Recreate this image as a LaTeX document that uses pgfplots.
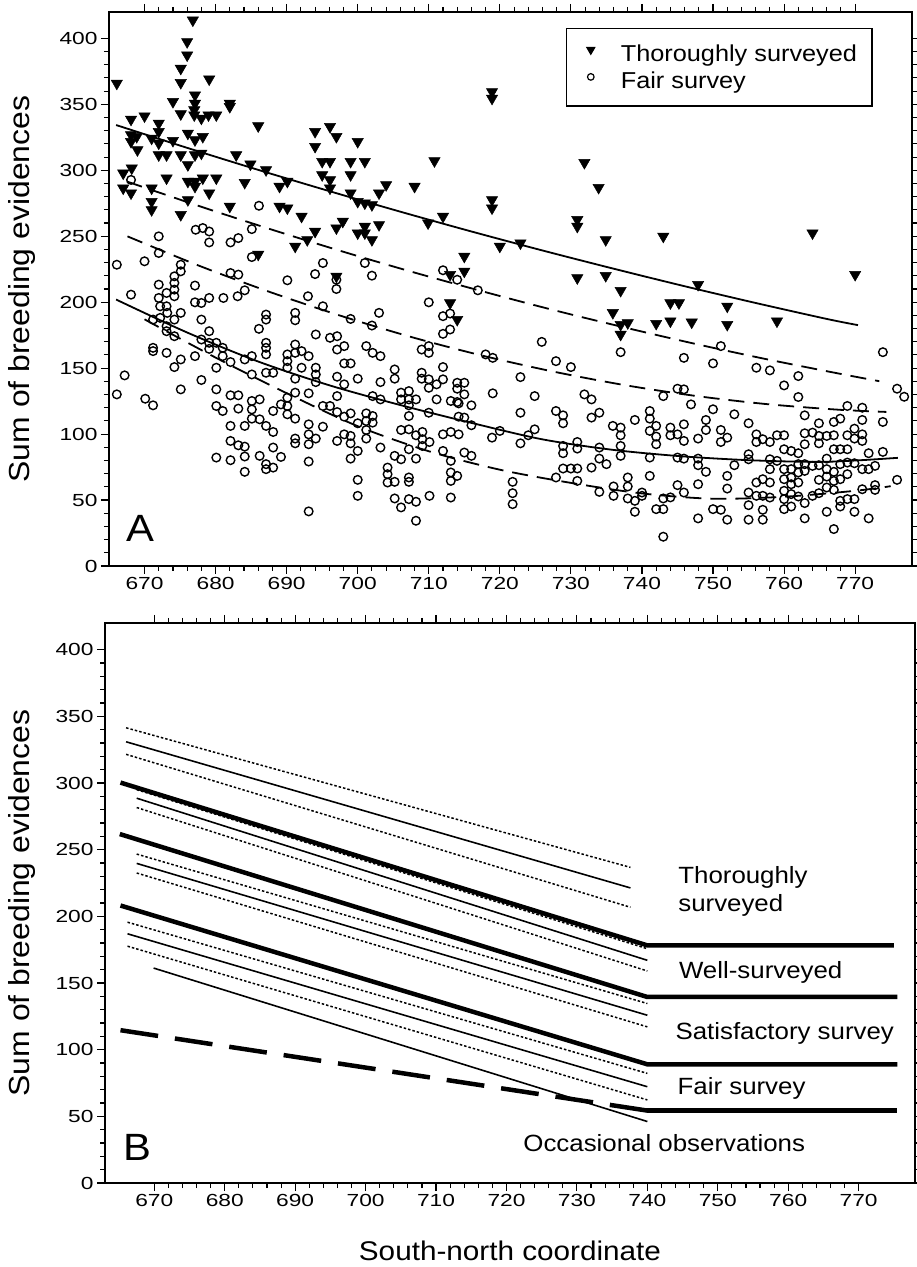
\documentclass[border=0pt]{standalone}
\usepackage{fontspec}
\setmainfont{Liberation Sans}[FakeStretch=1.1]
\newfontfamily\tickfont{Liberation Sans}[FakeStretch=1.3]
\usepackage{pgfplots}
\usepackage{pgfplotstable}
\pgfplotsset{compat=1.18}

\pgfplotstableread{
x y
666.1 365.9
676.8 413.8
676.0 397.4
676.0 387.3
675.1 377.2
675.1 366.4
679.1 369.1
674.0 352.0
677.1 357.0
677.1 350.7
677.0 345.7
677.0 341.9
678.0 339.4
679.0 341.9
680.1 341.9
675.1 342.7
682.0 350.7
682.0 348.2
686.0 333.6
668.1 338.6
670.0 341.1
668.1 326.8
668.1 321.7
668.9 325.5
669.0 315.4
671.0 324.2
672.0 335.6
672.0 329.3
672.0 320.5
672.0 311.6
673.1 311.6
674.0 322.5
675.1 311.6
676.1 328.0
677.1 323.0
678.2 325.5
676.1 304.1
677.1 311.6
678.0 312.9
667.0 297.8
668.2 301.6
667.0 286.4
668.1 282.7
671.0 286.4
671.0 276.3
671.0 270.0
673.1 294.0
676.1 291.5
677.1 291.5
677.1 287.7
678.2 294.0
680.1 294.0
679.1 282.7
676.1 277.6
675.1 266.3
682.0 272.6
684.1 290.7
682.9 311.6
684.9 304.6
687.1 300.3
689.0 287.7
690.1 291.5
689.0 272.6
690.1 271.3
692.1 265.0
691.2 242.3
692.9 247.3
694.0 329.3
694.0 318.0
696.1 333.1
697.0 325.5
695.0 306.6
696.1 306.6
695.0 296.5
696.1 292.7
696.1 286.4
699.0 306.6
699.0 296.5
701.0 306.6
700.0 321.7
699.0 282.7
700.0 276.3
701.0 275.1
702.0 273.8
703.0 282.7
704.0 289.0
708.0 287.7
710.8 307.1
709.9 260.0
712.0 265.0
694.0 253.6
697.0 256.2
697.9 261.2
700.0 252.4
701.0 257.4
701.0 252.4
702.0 247.3
703.0 258.7
697.0 219.6
686.0 236.2
718.9 359.5
718.9 354.5
731.9 305.8
733.9 286.9
718.9 277.6
718.9 271.3
730.9 262.5
730.9 257.4
734.9 247.3
743.0 249.9
764.0 252.4
770.0 220.9
720.0 242.3
722.9 244.8
715.0 234.7
715.0 223.4
713.0 220.9
730.9 218.4
734.9 220.1
737.0 208.8
747.9 213.3
744.0 199.4
745.2 199.4
752.0 196.9
713.0 199.4
735.9 192.0
714.0 186.8
737.0 183.0
737.0 175.5
738.0 184.3
742.0 183.8
744.0 185.6
747.0 184.8
752.0 183.0
759.0 185.6
}\tri

\pgfplotstableread{
x y
666.1 228.4
668.1 292.7
668.1 205.7
670.0 231.0
672.0 249.9
672.0 237.3
672.0 213.3
672.0 203.2
673.1 207.0
674.2 219.6
674.2 214.6
674.2 209.5
674.2 204.5
675.1 228.4
675.1 223.4
677.2 254.9
678.2 256.2
679.1 253.6
679.1 245.3
677.1 212.6
677.1 199.9
678.0 199.4
679.1 203.2
681.1 203.2
682.1 245.3
683.2 248.6
682.1 222.1
683.2 220.9
684.1 209.0
685.1 255.4
685.1 234.2
683.1 204.5
686.1 273.1
690.1 216.6
693.0 204.5
694.0 221.3
695.1 229.7
695.1 196.9
697.0 217.0
697.0 210.0
701.0 229.7
702.0 220.1
710.0 199.9
712.0 224.2
714.0 217.0
716.9 209.0
672.2 196.9
673.1 196.9
673.2 191.9
672.2 188.1
671.2 186.8
674.2 186.8
675.1 191.9
678.0 186.8
673.1 181.8
673.1 178.0
674.2 174.2
679.1 178.0
678.0 171.7
679.1 169.2
680.1 169.2
681.0 165.4
679.1 164.6
671.2 165.4
671.2 162.9
673.1 161.6
675.1 156.6
674.2 150.8
677.1 159.1
681.0 159.1
682.1 154.6
680.1 150.3
684.1 156.6
685.1 159.1
685.1 145.2
686.1 179.8
687.1 190.6
687.1 186.8
687.1 169.2
687.1 165.4
687.1 160.4
687.1 146.5
688.1 146.5
690.1 160.4
690.1 155.3
690.1 150.3
691.2 191.9
691.2 186.3
691.2 167.9
691.2 161.6
691.2 142.0
692.1 162.9
692.1 150.3
693.1 159.1
694.1 175.5
694.1 150.3
694.1 145.2
694.1 139.4
696.1 173.0
697.1 174.2
697.1 164.1
698.1 166.7
699.0 187.3
702.0 182.3
703.0 191.9
701.2 166.7
702.1 161.6
703.2 159.1
698.1 153.6
699.0 153.6
697.1 143.5
698.1 137.7
700.0 142.0
703.2 139.4
702.1 128.8
703.2 126.3
705.2 149.0
705.2 142.0
709.0 164.1
710.0 166.7
710.0 161.6
709.0 146.5
709.0 142.0
710.0 141.5
710.0 135.1
711.1 137.7
712.0 189.4
712.0 176.0
712.0 150.8
712.0 141.5
711.1 126.3
710.0 116.2
666.1 130.1
667.2 144.5
670.1 126.8
671.2 121.8
675.1 133.9
678.0 141.0
680.1 133.9
680.1 121.3
681.0 117.5
682.1 129.4
683.2 129.4
683.2 119.3
682.1 106.2
684.1 106.2
685.1 125.1
685.1 118.7
685.1 111.7
686.2 126.3
686.2 111.2
687.1 106.2
688.1 101.6
688.1 117.5
689.2 122.5
690.1 127.6
690.1 121.3
690.1 115.0
691.2 131.4
691.2 111.7
693.1 130.9
693.1 107.4
693.1 99.8
693.1 92.3
694.1 96.6
695.1 121.3
695.1 105.6
696.1 121.3
697.1 128.8
697.1 116.7
698.1 113.2
699.0 115.7
700.0 108.2
701.2 115.7
701.2 109.9
702.1 113.7
702.1 108.7
701.2 103.1
701.2 96.6
698.1 99.8
699.0 98.6
697.1 94.8
699.0 93.0
700.0 87.2
699.0 81.4
703.2 89.8
680.1 82.2
682.1 94.8
682.1 80.2
683.2 91.5
684.1 90.5
684.1 83.0
684.1 71.4
686.2 83.5
687.1 77.2
687.1 73.4
688.1 74.6
688.1 89.8
689.2 82.7
691.2 96.6
691.2 93.0
693.1 79.2
693.1 41.4
700.0 65.3
700.0 53.2
704.2 74.6
704.2 69.6
704.2 63.3
705.2 63.8
705.2 83.5
706.1 80.9
705.2 51.2
706.1 44.4
707.2 67.1
707.2 63.8
707.2 50.7
708.2 48.7
708.2 34.3
708.2 81.4
706.1 103.1
707.2 103.6
707.2 88.5
708.2 99.1
709.1 101.6
709.1 91.0
709.1 96.1
710.1 94.0
706.1 126.3
706.1 131.4
707.2 132.6
707.2 126.3
708.2 126.3
707.2 121.8
707.2 113.7
710.1 53.2
712.0 87.2
712.0 99.8
713.1 101.6
713.1 79.7
713.1 70.9
713.1 64.5
713.1 51.9
713.1 125.1
714.2 123.3
714.2 113.2
714.2 99.8
713.0 191.4
713.0 179.3
725.9 169.9
737.0 162.1
718.0 160.4
719.0 157.8
727.9 155.3
730.0 150.8
722.9 143.2
719.0 130.9
724.9 128.8
714.0 138.9
714.0 134.4
715.0 138.9
715.0 130.1
715.0 112.5
716.0 121.8
716.0 106.7
714.0 124.3
718.9 97.3
720.0 102.4
722.9 116.2
722.9 93.0
724.0 99.1
724.9 103.6
727.9 117.5
728.9 114.2
728.9 108.2
728.9 91.0
728.9 85.5
730.9 94.0
730.9 89.0
731.9 130.1
732.9 126.3
732.9 112.5
734.0 116.2
734.0 89.8
734.0 81.4
735.0 77.2
732.9 74.6
727.9 67.1
728.9 73.9
730.0 73.9
730.9 73.9
730.9 64.5
734.0 56.2
735.9 106.2
737.0 104.9
737.0 99.1
737.0 91.0
737.0 83.5
736.0 60.3
736.0 53.2
738.0 67.1
738.0 60.3
738.0 51.2
739.0 49.4
739.0 41.1
740.0 55.7
740.0 53.2
739.0 110.7
741.1 117.5
741.1 111.7
741.1 102.4
742.0 106.2
742.0 98.1
742.0 92.3
741.1 82.2
741.1 68.3
743.0 128.8
742.0 43.1
743.0 43.1
743.0 51.2
744.0 52.0
743.0 22.2
744.0 104.9
744.0 99.1
745.0 134.4
745.9 133.9
745.9 157.8
746.9 122.5
745.0 99.8
745.9 107.4
745.9 94.8
745.0 82.2
745.9 81.4
745.0 61.3
745.9 55.7
747.9 96.6
749.0 110.7
749.0 103.1
747.9 81.4
747.9 76.4
749.0 71.4
747.9 62.0
747.9 36.1
750.0 153.6
751.1 166.7
750.0 118.8
751.1 103.1
751.1 94.0
752.0 97.3
753.0 115.0
753.0 76.4
752.0 68.3
752.0 58.7
750.0 43.1
751.1 42.6
752.0 35.1
755.0 108.2
755.0 84.7
755.0 80.9
756.1 99.8
756.1 94.0
756.1 150.3
758.0 148.3
757.0 96.1
758.0 94.0
759.0 99.1
760.0 99.1
760.0 136.9
762.0 144.0
762.0 128.1
762.9 114.2
760.0 88.5
761.0 87.2
758.0 80.9
759.0 79.7
758.0 73.4
757.0 65.8
758.0 63.3
756.1 63.3
755.0 55.7
756.1 53.2
757.0 53.2
758.0 51.9
755.0 46.1
755.0 35.1
757.0 42.6
757.0 35.1
760.0 73.4
760.0 65.8
760.0 57.0
760.0 50.7
760.0 43.1
761.0 73.4
761.0 67.1
761.0 62.0
761.0 54.5
761.0 45.1
762.0 85.5
762.0 77.2
762.0 70.9
762.0 63.3
762.0 52.7
762.9 100.6
762.9 92.3
762.9 77.2
762.9 72.1
762.9 47.7
762.9 36.1
764.0 101.1
764.0 75.9
764.0 53.2
764.9 108.2
764.9 98.6
764.9 93.0
764.9 76.4
764.9 65.3
764.9 55.2
766.0 98.6
766.0 81.4
766.0 73.4
766.0 67.8
766.0 59.5
766.0 41.1
767.0 109.2
767.0 99.1
767.0 88.5
767.0 71.4
767.0 64.5
767.0 57.7
767.0 28.0
767.9 111.7
767.9 88.5
767.9 77.2
767.9 65.8
767.9 49.4
767.9 45.1
768.9 121.3
768.9 99.1
768.9 88.5
768.9 78.4
768.9 69.6
768.9 50.7
769.9 104.1
769.9 96.6
769.9 77.9
769.9 50.7
769.9 41.1
771.0 120.0
771.0 110.7
771.0 99.8
771.0 94.8
771.0 73.4
771.0 58.2
771.9 85.5
771.9 73.4
771.9 36.1
772.8 75.9
772.8 61.3
772.8 57.7
773.9 162.1
773.9 109.2
773.9 86.5
775.9 134.4
776.9 128.3
775.9 65.3
714.0 68.3
715.0 86.0
716.0 83.5
721.8 63.8
721.8 55.2
721.8 46.9
}\fair

\pgfplotsset{
  myaxis/.style={
    scale only axis,
    anchor=south west,
    ymin=0, ymax=420, xmax=778,
    xtick={670,680,...,770}, ytick={0,50,...,400},
    minor x tick num=4, minor y tick num=4,
    tick align=outside,
    major tick length=8pt, minor tick length=5pt,
    every tick/.style={black, line width=1.1pt},
    axis line style={line width=1.5pt},
    ticklabel style={font=\tickfont\fontsize{17.5}{20}\selectfont},
    /pgf/number format/assume math mode=true,
    /pgf/number format/1000 sep={},
    clip=true,
  },
  tmark/.style={only marks, mark=triangle*, mark size=6.5pt, mark options={rotate=180, fill=black, draw=black, line width=0.5pt}},
  cmark/.style={only marks, mark=o, mark size=4.3pt, mark options={line width=1.4pt}},
  dotline/.style={line width=1.5pt, dash pattern=on 2.5pt off 2pt},
  thinline/.style={line width=1.6pt},
  thickline/.style={line width=4.5pt},
}
\tikzset{
  lab/.style={font=\fontsize{23.5}{28}\selectfont, anchor=west, align=left},
}

\begin{document}
\begin{tikzpicture}
\path[use as bounding box] (0pt,0pt) rectangle (917pt,1267pt);

% ---------------- Panel A ----------------
\begin{axis}[myaxis,
  at={(109pt,701pt)}, width=803pt, height=554pt,
  xmin=665,
  ylabel={Sum of breeding evidences},
  every axis y label/.style={at={(axis description cs:-0.1083,0.5)}, rotate=90, anchor=center, font=\fontsize{29}{32}\selectfont},
  legend style={at={(0.951,0.971)}, anchor=north east, draw=black, line width=1.2pt,
    font=\fontsize{23}{26}\selectfont, inner xsep=0pt, inner ysep=16pt, row sep=9pt,
    nodes={inner sep=0pt}},
  legend cell align=left,
]
\addlegendimage{legend image code/.code={
  \path[draw=none] (0pt,0pt) -- (54pt,0pt);
  \draw[black] plot[only marks, mark=triangle*, mark size=4.5pt, mark options={rotate=180, fill=black}] coordinates {(24pt,4pt)};}}
\addlegendentry{Thoroughly surveyed\hspace*{15pt}}
\addlegendimage{legend image code/.code={
  \path[draw=none] (0pt,0pt) -- (54pt,0pt);
  \draw[black, line width=1.2pt] plot[only marks, mark=o, mark size=3.3pt] coordinates {(24pt,4pt)};}}
\addlegendentry{Fair survey}

\addplot[cmark, forget plot] table {\fair};
\addplot[tmark, forget plot] table {\tri};

\addplot[line width=1.8pt, smooth, forget plot] coordinates {(666,334.3) (676,317.0) (686,300.3) (696,284.2) (706,268.6) (716,253.6) (726,239.2) (736,225.4) (746,212.1) (756,199.4) (766,187.3) (770.4,182.6)};
\addplot[line width=1.8pt, smooth, dash pattern=on 16pt off 9pt, forget plot] coordinates {(667.5,291.5) (677.5,273.2) (687.5,255.7) (697.5,239.0) (707.5,223.2) (717.5,208.3) (727.5,194.1) (737.5,180.9) (747.5,168.4) (757.5,156.8) (767.5,146.1) (773.4,140.1)};
\addplot[line width=1.8pt, smooth, dash pattern=on 16pt off 9pt, forget plot] coordinates {(667.6,249.9) (677.6,227.8) (687.6,207.8) (697.6,189.7) (707.6,173.5) (717.6,159.4) (727.6,147.3) (737.6,137.1) (747.6,128.9) (757.6,122.7) (767.6,118.5) (774.4,116.8)};
\addplot[line width=1.8pt, smooth, forget plot] coordinates {(666,202) (676,177) (686,155) (696,137) (706,122) (716,108.5) (726,96) (736,88) (746,83) (756,80) (766,79) (776,82)};
\addplot[line width=1.8pt, smooth, dash pattern=on 16pt off 9pt, forget plot] coordinates {(670,187) (680,158) (690,131) (700,106) (710,87) (720,73) (730,63) (740,55) (750,51) (760,52.5) (770,57) (775,60.5)};

\node[font=\fontsize{38}{40}\selectfont] at (axis cs:669.4,28.8) {A};
\end{axis}

% ---------------- Panel B ----------------
\begin{axis}[myaxis,
  at={(105pt,84pt)}, width=810pt, height=560pt,
  xmin=663,
  ylabel={Sum of breeding evidences},
  xlabel={South-north coordinate},
  every axis y label/.style={at={(axis description cs:-0.1025,0.5)}, rotate=90, anchor=center, font=\fontsize{29}{32}\selectfont},
  every axis x label/.style={at={(axis description cs:0.5,-0.1214)}, anchor=center, font=\fontsize{27}{30}\selectfont},
]
% Thoroughly surveyed fit with band
\addplot[thinline] coordinates {(666,330.9) (737.6,221.3)};
\addplot[dotline] coordinates {(666,341.4) (737.6,236.7)};
\addplot[dotline] coordinates {(666,321.5) (737.6,206.8)};
% Well-surveyed fit with band
\addplot[thinline] coordinates {(667.5,288.6) (740,167)};
\addplot[dotline] coordinates {(667.5,295) (740,175.7)};
\addplot[dotline] coordinates {(667.5,281.6) (740,159)};
% Satisfactory fit with band
\addplot[thinline] coordinates {(667.5,239.7) (740,125.8)};
\addplot[dotline] coordinates {(667.5,246.7) (740,134.6)};
\addplot[dotline] coordinates {(667.5,232.5) (740,117.1)};
% Fair fit with band
\addplot[thinline] coordinates {(666.2,186.9) (740,72.2)};
\addplot[dotline] coordinates {(666.2,195.6) (740,82.2)};
\addplot[dotline] coordinates {(666.2,177.6) (740,62.3)};
% Occasional
\addplot[thinline] coordinates {(669.9,161.2) (740,46.1)};
% Class boundaries
\addplot[thickline] coordinates {(665.2,300.3) (740,178.2) (775,178.2)};
\addplot[thickline] coordinates {(665.1,261.7) (740,139.5) (775.5,139.5)};
\addplot[thickline] coordinates {(665.2,208.1) (740,89) (775.5,89)};
\addplot[thickline, dash pattern=on 38pt off 17pt] coordinates {(665.2,114.6) (740,54.3)};
\addplot[thickline] coordinates {(740,54.3) (775.5,54.3)};

\node[lab] at (axis cs:743.9,218.5) {Thoroughly\\surveyed};
\node[lab] at (axis cs:744.0,158.2) {Well-surveyed};
\node[lab] at (axis cs:743.5,112.1) {Satisfactory survey};
\node[lab] at (axis cs:743.8,71.0) {Fair survey};
\node[lab, anchor=center] at (axis cs:742.4,29.9) {Occasional observations};
\node[font=\fontsize{38}{40}\selectfont] at (axis cs:667.6,26.4) {B};
\end{axis}
\end{tikzpicture}
\end{document}
